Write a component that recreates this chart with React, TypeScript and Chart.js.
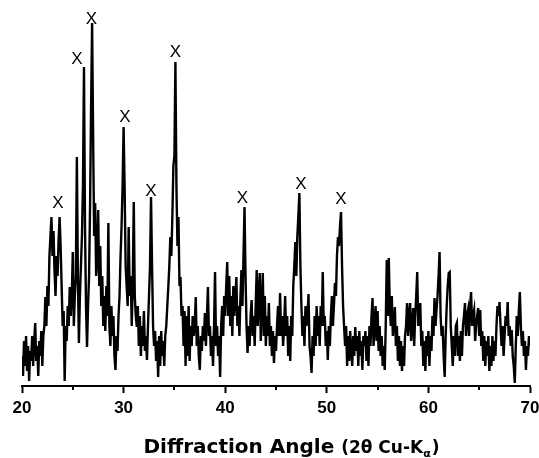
import React, { useEffect, useRef } from "react";
import { Chart, registerables } from "chart.js";

Chart.register(...registerables);

// Scan grid: 2θ from 20° to 70° in 0.1° steps
const ANGLE_START = 20;
const ANGLE_STEP = 0.1;

// Intensity (arbitrary units), one value per 0.1°
const intensity: number[] = [
  // 20.0 - 20.9
  30, 10, 45, 20, 50, 15, 40, 5, 35, 25,
  // 21
  50, 20, 45, 63, 25, 40, 10, 45, 30, 55,
  // 22
  20, 50, 60, 89, 60, 100, 80, 130, 150, 169,
  // 23
  130, 155, 115, 90, 130, 110, 145, 169, 140, 100,
  // 24
  60, 75, 5, 60, 45, 80, 60, 99, 70, 90,
  // 25
  134, 60, 90, 110, 229, 110, 43, 90, 120, 150,
  // 26
  200, 319, 160, 80, 39, 80, 110, 180, 280, 363,
  // 27
  250, 150, 183, 110, 130, 176, 100, 140, 80, 110,
  // 28
  60, 90, 55, 100, 70, 163, 60, 40, 80, 50,
  // 29
  70, 30, 16, 50, 35, 70, 90, 130, 160, 200,
  // 30
  259, 199, 120, 100, 80, 159, 90, 110, 60, 100,
  // 31
  184, 90, 70, 59, 80, 40, 70, 30, 60, 40,
  // 32
  75, 35, 50, 26, 60, 90, 120, 189, 120, 60,
  // 33
  40, 55, 25, 45, 9, 50, 20, 55, 30, 45,
  // 34
  20, 50, 60, 80, 99, 120, 149, 130, 170, 220,
  // 35
  230, 324, 200, 140, 169, 100, 109, 70, 80, 40,
  // 36
  75, 20, 70, 30, 80, 25, 60, 40, 70, 50,
  // 37
  60, 89, 40, 60, 30, 16, 50, 35, 60, 45,
  // 38
  73, 40, 70, 99, 50, 60, 30, 50, 20, 60,
  // 39
  114, 40, 60, 30, 50, 9, 60, 80, 50, 90,
  // 40
  70, 100, 124, 70, 110, 60, 90, 50, 100, 70,
  // 41
  90, 109, 60, 80, 50, 90, 116, 80, 130, 179,
  // 42
  110, 60, 33, 60, 40, 70, 86, 50, 70, 40,
  // 43
  80, 116, 60, 90, 113, 45, 80, 113, 50, 90,
  // 44
  40, 70, 50, 83, 40, 60, 30, 55, 23, 50,
  // 45
  35, 60, 80, 50, 93, 50, 70, 40, 60, 90,
  // 46
  50, 70, 30, 60, 25, 70, 50, 100, 120, 144,
  // 47
  110, 150, 170, 193, 120, 80, 50, 70, 40, 80,
  // 48
  60, 70, 92, 40, 30, 13, 50, 30, 70, 40,
  // 49
  80, 50, 70, 40, 80, 60, 114, 60, 70, 40,
  // 50
  55, 26, 60, 40, 70, 90, 60, 80, 103, 90,
  // 51
  130, 149, 140, 160, 174, 120, 80, 60, 40, 60,
  // 52
  20, 50, 25, 55, 35, 20, 50, 30, 59, 35,
  // 53
  50, 20, 55, 30, 45, 16, 50, 40, 55, 25,
  // 54
  50, 20, 60, 40, 70, 88, 40, 60, 80, 45,
  // 55
  75, 35, 60, 30, 50, 20, 40, 16, 60, 126,
  // 56
  70, 128, 80, 60, 90, 50, 60, 79, 40, 60,
  // 57
  25, 50, 20, 45, 15, 40, 20, 50, 60, 83,
  // 58
  50, 70, 83, 45, 60, 78, 40, 70, 90, 114,
  // 59
  60, 70, 83, 40, 55, 20, 45, 15, 50, 30,
  // 60
  55, 20, 50, 35, 70, 50, 88, 60, 76, 90,
  // 61
  110, 134, 70, 50, 60, 30, 9, 50, 80, 100,
  // 62
  113, 114, 60, 40, 20, 50, 30, 60, 63, 30,
  // 63
  50, 25, 55, 30, 60, 70, 83, 50, 70, 76,
  // 64
  50, 80, 94, 60, 70, 76, 45, 60, 70, 78,
  // 65
  50, 76, 40, 55, 25, 50, 20, 45, 30, 50,
  // 66
  15, 40, 20, 50, 25, 45, 30, 60, 80, 70,
  // 67
  84, 60, 40, 60, 30, 50, 70, 60, 84, 50,
  // 68
  60, 40, 56, 30, 20, 3, 40, 70, 50, 75,
  // 69
  94, 60, 40, 55, 30, 45, 16, 40, 30, 50,
  // 70.0
  40,
];

// Peak markers ("X") placed above the indexed reflections
const markerAngles = [23.54, 25.41, 26.84, 30.14, 32.7, 35.11, 41.7, 47.46, 51.4];
const markerLevels = [183, 327, 367, 269, 195, 334, 188, 202, 187];
const markerText = "X";

// Axis
const X_MIN = 20;
const X_MAX = 70;
const MAJOR_STEP = 10;
const minorTicks = [25, 35, 45, 55, 65];
const Y_MIN = 0;
const Y_MAX = 376;

// Axis title parts
const titleMain = "Diffraction Angle ";
const titleParen = "(2\u03b8 Cu-K";
const titleSub = "\u03b1";
const titleClose = ")";

const decorPlugin = {
  id: "decor",
  afterDraw(chart: any) {
    const { ctx, chartArea } = chart;
    const xs = chart.scales.x;
    const ys = chart.scales.y;
    ctx.save();
    ctx.fillStyle = "#000";
    ctx.strokeStyle = "#000";

    // minor ticks
    ctx.lineWidth = 2;
    for (const v of minorTicks) {
      const px = Math.round(xs.getPixelForValue(v));
      ctx.beginPath();
      ctx.moveTo(px, chartArea.bottom);
      ctx.lineTo(px, chartArea.bottom + 4);
      ctx.stroke();
    }

    // peak markers
    ctx.font = '17px "Liberation Sans"';
    ctx.textAlign = "center";
    ctx.textBaseline = "middle";
    markerAngles.forEach((a, i) => {
      ctx.fillText(markerText, xs.getPixelForValue(a), ys.getPixelForValue(markerLevels[i]));
    });

    // axis title
    const f1 = 'bold 20px "DejaVu Sans"';
    const f2 = 'bold 17px "DejaVu Sans"';
    const f3 = 'bold 11px "DejaVu Sans"';
    ctx.textAlign = "left";
    ctx.textBaseline = "alphabetic";
    ctx.font = f1;
    const w1 = ctx.measureText(titleMain).width;
    ctx.font = f2;
    const w2 = ctx.measureText(titleParen).width;
    const w4 = ctx.measureText(titleClose).width;
    ctx.font = f3;
    const w3 = ctx.measureText(titleSub).width;
    const total = w1 + w2 + w3 + w4 + 1;
    const center = (chartArea.left + chartArea.right) / 2 + 15.5;
    let x = center - total / 2;
    const base = chartArea.bottom + 67;
    ctx.font = f1;
    ctx.fillText(titleMain, x, base);
    x += w1;
    ctx.font = f2;
    ctx.fillText(titleParen, x, base);
    x += w2;
    ctx.font = f3;
    ctx.fillText(titleSub, x, base + 4);
    x += w3 + 1;
    ctx.font = f2;
    ctx.fillText(titleClose, x, base);
    ctx.restore();
  },
};

export default function App() {
  const canvasRef = useRef<HTMLCanvasElement | null>(null);

  useEffect(() => {
    const canvas = canvasRef.current;
    if (!canvas) return;
    const points = intensity.map((v, i) => ({
      x: ANGLE_START + i * ANGLE_STEP,
      y: v,
    }));
    const chart = new Chart(canvas, {
      type: "line",
      data: {
        datasets: [
          {
            data: points,
            borderColor: "#000",
            borderWidth: 2.4,
            pointRadius: 0,
            tension: 0,
            borderJoinStyle: "miter",
            fill: false,
          },
        ],
      },
      options: {
        animation: false,
        responsive: false,
        devicePixelRatio: 1,
        parsing: false,
        layout: { padding: { left: 22, right: 9, top: 10, bottom: 34.6 }, autoPadding: false },
        plugins: {
          legend: { display: false },
          tooltip: { enabled: false },
          title: { display: false },
        },
        scales: {
          x: {
            type: "linear",
            min: X_MIN,
            max: X_MAX,
            afterFit(scale: any) {
              scale.paddingLeft = 0;
              scale.paddingRight = 0;
            },
            ticks: {
              stepSize: MAJOR_STEP,
              autoSkip: false,
              maxRotation: 0,
              padding: 5,
              color: "#000",
              font: { family: '"Liberation Sans", Arial, sans-serif', size: 17, weight: "bold" },
            },
            grid: {
              display: true,
              drawOnChartArea: false,
              drawTicks: true,
              tickLength: 7,
              tickWidth: 2,
              tickColor: "#000",
            },
            border: { display: true, color: "#000", width: 2 },
          },
          y: {
            type: "linear",
            display: false,
            min: Y_MIN,
            max: Y_MAX,
          },
        },
      },
      plugins: [decorPlugin],
    } as any);
    return () => chart.destroy();
  }, []);

  return (
    <div style={{ position: "fixed", left: 0, top: 0, width: 539, height: 458, overflow: "hidden", background: "#fff" }}>
      <canvas ref={canvasRef} width={539} height={458} style={{ display: "block" }} />
    </div>
  );
}
